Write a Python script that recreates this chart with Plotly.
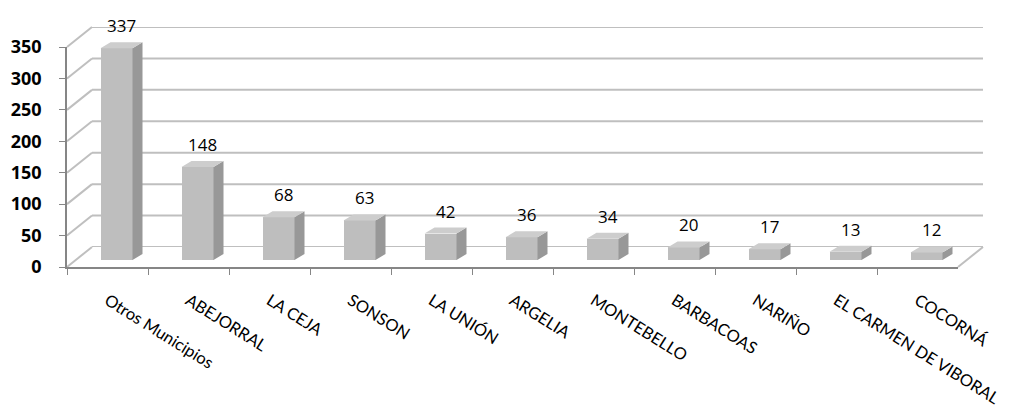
import plotly.graph_objects as go
import numpy as np

# ---------------- data ----------------
categories = ["Otros Municipios", "ABEJORRAL", "LA CEJA", "SONSON", "LA UNIÓN",
              "ARGELIA", "MONTEBELLO", "BARBACOAS", "NARIÑO",
              "EL CARMEN DE VIBORAL", "COCORNÁ"]
values = [337, 148, 68, 63, 42, 36, 34, 20, 17, 13, 12]
y_ticks = [0, 50, 100, 150, 200, 250, 300, 350]
Y_MAX = 350

# ---------------- layout constants (pixels) ----------------
W, H = 1019, 412
FX0, FX1 = 67, 958          # front floor edge, left/right
FY0, FYTOP = 267, 47        # front plane: y-pixel of 0 and of Y_MAX
BACK_DX, BACK_DY = 25, 20   # back wall offset
BAR_DX, BAR_DY = 9, 7       # bar front plane offset
SIDE_DX_PX, SIDE_DY_PX = 10, 6  # bar depth
BAR_W = 0.395

GRID = "#BFBFBF"
AXIS = "#868686"
FRONT = "#BEBEBE"
SIDE = "#989898"
TOP = "#CDCDCD"
FONT = "Open Sans"
CAT_FONT = "Lato"


def pxx(x):
    return x / W


def pxy(y):
    return (H - y) / H


n = len(categories)
idx = np.arange(n)
cat_px = (FX1 - FX0) / n
scale = (FY0 - FYTOP) / Y_MAX
side_dx = SIDE_DX_PX / cat_px
side_dy = SIDE_DY_PX / scale

fig = go.Figure()

# ---- back wall gridlines (subplot x/y) ----
for v in y_ticks:
    fig.add_trace(go.Scatter(x=[-0.5, n - 0.5], y=[v, v], mode="lines",
                             line=dict(color=GRID, width=2), hoverinfo="skip",
                             xaxis="x", yaxis="y", showlegend=False))

# ---- front axis (subplot x2/y2) ----
fig.add_trace(go.Scatter(x=categories, y=[0] * n, mode="markers",
                         marker=dict(opacity=0), hoverinfo="skip",
                         xaxis="x2", yaxis="y2", showlegend=False))

# ---- bars (subplot x3/y3) ----
fig.add_trace(go.Bar(x=idx, y=values, width=BAR_W, marker=dict(color=FRONT, line=dict(width=0)),
                     xaxis="x3", yaxis="y3", showlegend=False, hoverinfo="skip"))

sx, sy, tx, ty = [], [], [], []
for i, v in zip(idx, values):
    r = i + BAR_W / 2
    l = i - BAR_W / 2
    sx += [r, r + side_dx, r + side_dx, r, r, None]
    sy += [0, side_dy, v + side_dy, v, 0, None]
    tx += [l, r, r + side_dx, l + side_dx, l, None]
    ty += [v, v, v + side_dy, v + side_dy, v, None]

fig.add_trace(go.Scatter(x=sx, y=sy, mode="lines", fill="toself", fillcolor=SIDE,
                         line=dict(width=0, color=SIDE), hoverinfo="skip",
                         xaxis="x3", yaxis="y3", showlegend=False))
fig.add_trace(go.Scatter(x=tx, y=ty, mode="lines", fill="toself", fillcolor=TOP,
                         line=dict(width=0, color=TOP), hoverinfo="skip",
                         xaxis="x3", yaxis="y3", showlegend=False))

# data labels
annotations = []
for i, v in zip(idx, values):
    annotations.append(dict(x=i + side_dx / 2, y=v + side_dy, xref="x3", yref="y3",
                            text=str(v), showarrow=False, yanchor="bottom",
                            yshift=3, font=dict(family=FONT, size=17, color="#000000")))

# left wall / floor diagonals
shapes = []
for v in y_ticks:
    shapes.append(dict(type="line", xref="paper", yref="paper",
                       x0=pxx(FX0), y0=pxy(FY0 - v * scale),
                       x1=pxx(FX0 + BACK_DX), y1=pxy(FY0 - BACK_DY - v * scale),
                       line=dict(color=GRID, width=2), layer="below"))
shapes.append(dict(type="line", xref="paper", yref="paper",
                   x0=pxx(FX1), y0=pxy(FY0),
                   x1=pxx(FX1 + BACK_DX), y1=pxy(FY0 - BACK_DY),
                   line=dict(color=GRID, width=2), layer="below"))

fig.update_layout(
    width=W, height=H,
    margin=dict(l=0, r=0, t=0, b=0, autoexpand=False),
    paper_bgcolor="white",
    plot_bgcolor="rgba(0,0,0,0)",
    showlegend=False,
    font=dict(family=FONT, color="#000000"),
    annotations=annotations,
    shapes=shapes,
    bargap=0,
    xaxis=dict(domain=[pxx(FX0 + BACK_DX), pxx(FX1 + BACK_DX)], range=[-0.5, n - 0.5],
               visible=False, anchor="y", automargin=False),
    yaxis=dict(domain=[pxy(FY0 - BACK_DY), pxy(FYTOP - BACK_DY)], range=[0, Y_MAX],
               visible=False, anchor="x", automargin=False),
    xaxis2=dict(domain=[pxx(FX0), pxx(FX1)], type="category", categoryorder="array",
                categoryarray=categories, range=[-0.5, n - 0.5], anchor="y2",
                tickson="boundaries", ticks="outside", ticklen=6, tickcolor=AXIS,
                showline=True, linecolor=AXIS, linewidth=1.5, showgrid=False,
                tickangle=32, ticklabelstandoff=16, automargin=False,
                tickfont=dict(family=CAT_FONT, size=16.5, color="#000000")),
    yaxis2=dict(domain=[pxy(FY0), pxy(FYTOP)], range=[0, Y_MAX], anchor="x2",
                tickvals=y_ticks, ticks="outside", ticklen=6, tickcolor=AXIS,
                showline=True, linecolor=AXIS, linewidth=1.5, showgrid=False,
                zeroline=False, automargin=False, ticklabelstandoff=14,
                tickfont=dict(family=FONT, size=18, color="#000000", weight="bold")),
    xaxis3=dict(domain=[pxx(FX0 + BAR_DX), pxx(FX1 + BAR_DX)], range=[-0.5, n - 0.5],
                visible=False, anchor="y3", automargin=False),
    yaxis3=dict(domain=[pxy(FY0 - BAR_DY), pxy(FYTOP - BAR_DY)], range=[0, Y_MAX],
                visible=False, anchor="x3", automargin=False),
)

fig.write_html("out.html", config={"displayModeBar": False},
               post_script="document.body.style.margin='0';document.body.style.padding='0';")
